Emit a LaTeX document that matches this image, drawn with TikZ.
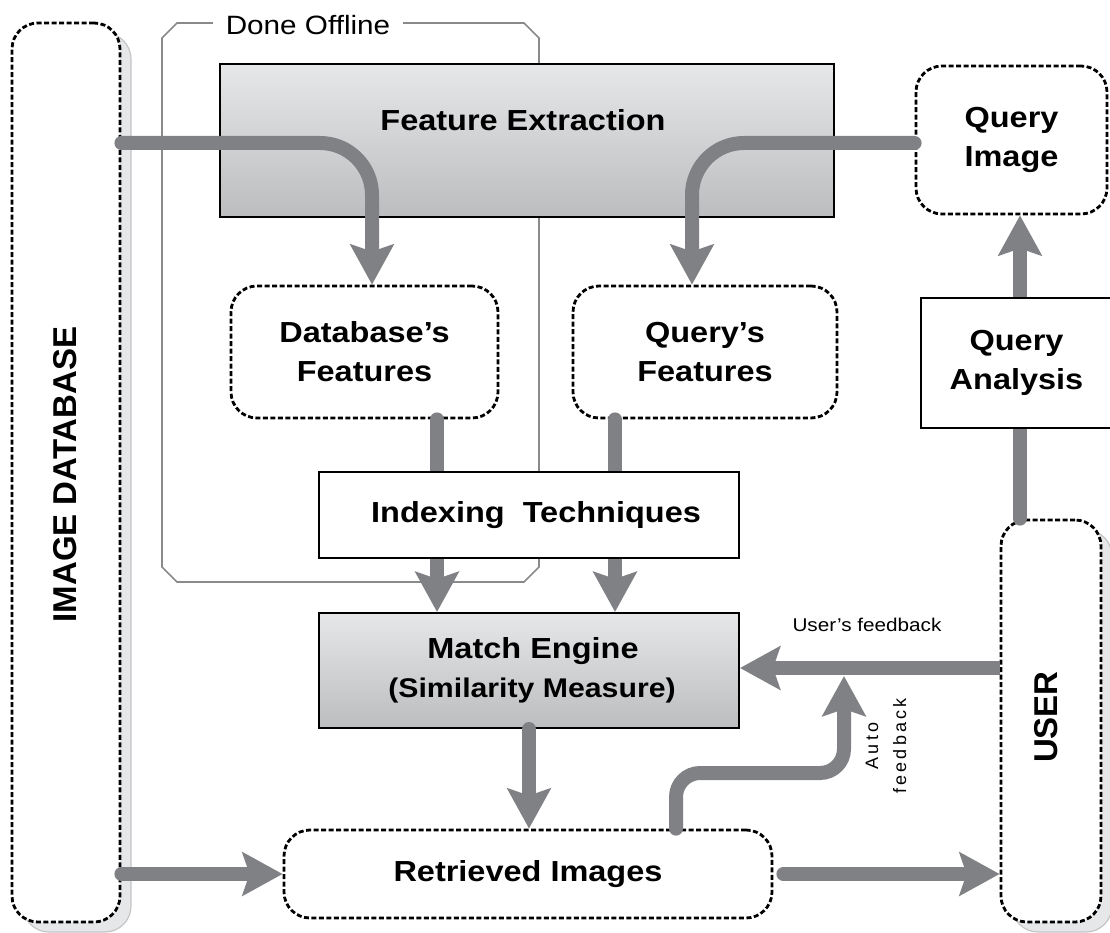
\documentclass[tikz,border=0pt]{standalone}
\usepackage{fontspec}
\setmainfont{Liberation Sans}
\newfontfamily\widefont{Liberation Sans}[FakeStretch=1.12]
\newfontfamily\spacedfont{Liberation Sans}[LetterSpace=18]
\usetikzlibrary{arrows.meta,shadows}
\definecolor{conn}{HTML}{808184}
\definecolor{framegray}{HTML}{8A8A8A}
\definecolor{shtop}{HTML}{E6E7E8}
\definecolor{shbot}{HTML}{BCBDBF}
\definecolor{shadowfill}{HTML}{E6E7E8}
\definecolor{shadowdraw}{HTML}{C4C5C7}
\begin{document}
\begin{tikzpicture}[x=1pt,y=-1pt,
  lab/.style={font=\widefont\bfseries\fontsize{29}{39}\selectfont, align=center, inner sep=0pt},
  dbox/.style={draw=black, line width=2.8pt, dash pattern=on 5pt off 2.5pt, rounded corners=26pt, fill=white, inner sep=0pt},
  sbox/.style={draw=black, line width=2pt, fill=white, inner sep=0pt},
  gbox/.style={draw=black, line width=2pt, top color=shtop, bottom color=shbot, inner sep=0pt},
  shad/.style={drop shadow={shadow xshift=11pt, shadow yshift=-10pt, fill=shadowfill, draw=shadowdraw, line width=1.2pt, solid, opacity=1}},
  conn/.style={draw=conn, line width=14pt, line cap=round},
  arr/.style={-{Stealth[width=43pt,length=40pt,inset=7pt]}},
  vlab/.style={font=\bfseries\fontsize{33}{40}\selectfont, rotate=90, inner sep=0pt}
]
\useasboundingbox (0,0) rectangle (1110,933);
\fill[white] (0,0) rectangle (1110,933);

% Done Offline frame
\draw[framegray, line width=1.6pt] (308,23) -- (524,23) -- (539,38) -- (539,567) -- (524,582)
  -- (177,582) -- (162,567) -- (162,38) -- (177,23) -- cycle;
\node[fill=white, inner xsep=13pt, inner ysep=2pt, font=\widefont\fontsize{26.5}{30}\selectfont] (offlbl) at (308,25) {Done Offline};

% boxes
\node[gbox, minimum width=614pt, minimum height=153pt] (fe) at (527,140.5) {};
\node[lab] (fetext) at (523,120) {Feature Extraction};
\node[dbox, shad, minimum width=108pt, minimum height=899pt] (db) at (66,472.5) {};
\node[vlab] (dblbl) at (65,474.5) {IMAGE DATABASE};
\node[dbox, lab, minimum width=191pt, minimum height=148pt] (qi) at (1011.5,140) {Query\\Image};
\node[dbox, lab, minimum width=267pt, minimum height=132pt] (dbf) at (364.5,352) {Database’s\\Features};
\node[dbox, lab, minimum width=264pt, minimum height=132pt] (qf) at (705,352) {Query’s\\Features};
\node[gbox, lab, minimum width=420pt, minimum height=115pt] (me) at (529,670.5) {\hspace{8pt}Match Engine\\{\fontsize{27}{33}\selectfont\hspace{6pt}(Similarity Measure)}};
\node[dbox, lab, minimum width=488pt, minimum height=88pt] (ri) at (528,874) {Retrieved Images};
\node[dbox, shad, minimum width=100pt, minimum height=402pt] (user) at (1051,721) {};
\node[vlab] (userlbl) at (1046,717) {USER};

% connectors
\coordinate (join) at (844,676);
\draw[conn, arr, rounded corners=52pt] (db.east |- 0,143) -| (372,0 |- dbf.north);
\draw[conn, arr, rounded corners=52pt] (qi.west |- 0,143) -| (692,0 |- qf.north);
\draw[conn] (437,0 |- dbf.south) -- (437,472);
\draw[conn] (615,0 |- qf.south) -- (615,472);
\draw[conn, arr] (437,556) -- (437,0 |- me.north);
\draw[conn, arr] (615,556) -- (615,0 |- me.north);
\draw[conn, arr] (529,0 |- me.south) -- (529,0 |- ri.north);
\draw[conn, arr] (db.east |- ri.west) -- (ri.west);
\draw[conn, arr, shorten <=10pt] (ri.east) -- (user.west |- ri.east);
\draw[conn, arr, line cap=butt] (user.west |- 0,668) -- (me.east |- 0,668);
\draw[conn, arr, rounded corners=24pt] (676,0 |- ri.north) -- (676,773) -- (844,773) -- (join);
\draw[conn] (1020,0 |- user.north) -- (1020,428);
\draw[conn, arr] (1020,300) -- (1020,0 |- qi.south);

% boxes drawn over connector ends
\node[sbox, lab, minimum width=420pt, minimum height=86pt] (idx) at (529,515) {\hspace{14pt}Indexing\ \ Techniques};
\node[sbox, lab, minimum width=191pt, minimum height=130pt] (qa) at (1016.5,363) {Query\\Analysis};

% connector labels
\node[font=\widefont\fontsize{18.5}{22}\selectfont] (ufb) at (867,625) {User’s feedback};
\node[font=\spacedfont\fontsize{18}{28}\selectfont, align=center, rotate=90] (afb) at (886,746) {Auto\\feedback};
\end{tikzpicture}
\end{document}
